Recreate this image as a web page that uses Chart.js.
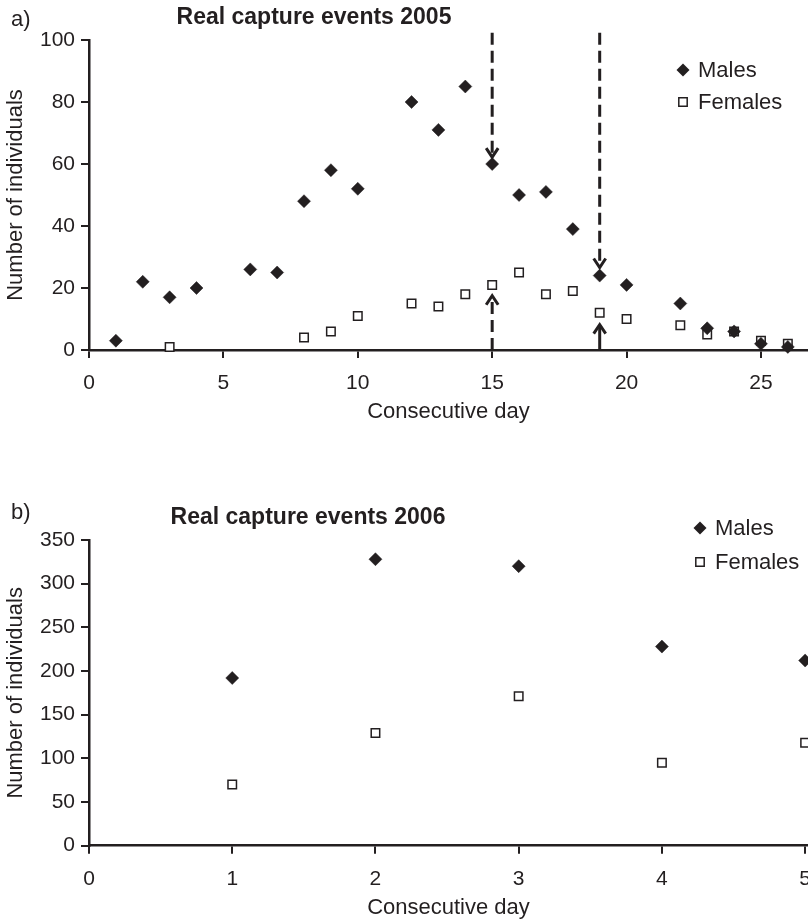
<!DOCTYPE html>
<html>
<head>
<meta charset="utf-8">
<script src="https://cdn.jsdelivr.net/npm/chart.js@4.4.0/dist/chart.umd.min.js"></script>
<style>
  html, body { margin: 0; padding: 0; background: #fff; overflow: hidden; }
  .panel { position: absolute; left: 0; width: 808px; }
  #panelA { top: 0; height: 455px; }
  #panelB { top: 455px; height: 468px; }
</style>
</head>
<body>
<div class="panel" id="panelA"><canvas id="chartA" width="808" height="455"></canvas></div>
<div class="panel" id="panelB"><canvas id="chartB" width="808" height="468"></canvas></div>
<script>
// 2005 capture events (panel a)
const maleDays2005 = [1, 2, 3, 4, 6, 7, 8, 9, 10, 12, 13, 14, 15, 16, 17, 18, 19, 20, 22, 23, 24, 25, 26];
const males2005 = [3, 22, 17, 20, 26, 25, 48, 58, 52, 80, 71, 85, 60, 50, 51, 39, 24, 21, 15, 7, 6, 2, 1];
const femaleDays2005 = [3, 8, 9, 10, 12, 13, 14, 15, 16, 17, 18, 19, 20, 22, 23, 24, 25, 26];
const females2005 = [1, 4, 6, 11, 15, 14, 18, 21, 25, 18, 19, 12, 10, 8, 5, 6, 3, 2];

// arrows on panel a: day, start value, tip value, dashed
const arrowDays = [15, 19, 15, 19];
const arrowFrom = [102.3, 102.3, 0, 0];
const arrowTo = [62.2, 26.6, 17.5, 8.2];
const arrowDashed = [true, true, true, false];

// 2006 capture events (panel b)
const days2006 = [1, 2, 3, 4, 5];
const males2006 = [192, 328, 320, 228, 212];
const females2006 = [70, 129, 171, 95, 118];

const ink = '#231f20';
const family = '"Liberation Sans", Arial, Helvetica, sans-serif';

function pts(xs, ys) {
  return xs.map((x, i) => ({ x: x, y: ys[i] }));
}

function marker(ctx, style, x, y) {
  ctx.save();
  ctx.strokeStyle = ink;
  ctx.beginPath();
  if (style === 'rectRot') {
    const r = 6.5;
    ctx.moveTo(x, y - r); ctx.lineTo(x + r, y); ctx.lineTo(x, y + r); ctx.lineTo(x - r, y);
    ctx.closePath();
    ctx.fillStyle = ink; ctx.fill();
  } else {
    const h = 4.2;
    ctx.rect(x - h, y - h, 2 * h, 2 * h);
    ctx.fillStyle = '#fff'; ctx.fill();
    ctx.lineWidth = 1.5; ctx.stroke();
  }
  ctx.restore();
}

// panel label, title and legend
const decorPlugin = {
  id: 'decor',
  afterDraw(chart, args, opts) {
    const ctx = chart.ctx;
    ctx.save();
    ctx.fillStyle = ink;
    ctx.textBaseline = 'middle';
    ctx.font = '22px ' + family;
    ctx.textAlign = 'left';
    ctx.fillText(opts.panel, 11, opts.panelY);
    ctx.font = 'bold 23px ' + family;
    ctx.textAlign = 'center';
    ctx.fillText(opts.title, opts.titleX, opts.titleY);
    ctx.font = '22px ' + family;
    ctx.textAlign = 'left';
    chart.data.datasets.forEach((ds, i) => {
      const y = opts.legendY + i * opts.legendGap;
      marker(ctx, ds.pointStyle, opts.legendX, y);
      ctx.fillStyle = ink;
      ctx.fillText(ds.label, opts.legendX + 15, y + 1);
    });
    ctx.restore();
  }
};

// dashed / solid arrows pointing at the captures
const arrowPlugin = {
  id: 'arrows',
  beforeDatasetsDraw(chart, args, opts) {
    if (!opts.show) return;
    const ctx = chart.ctx;
    const xs = chart.scales.x, ys = chart.scales.y;
    ctx.save();
    ctx.strokeStyle = ink;
    ctx.lineWidth = 3;
    arrowDays.forEach((d, i) => {
      const x = xs.getPixelForValue(d);
      const y0 = ys.getPixelForValue(arrowFrom[i]);
      const y1 = ys.getPixelForValue(arrowTo[i]);
      const dir = y1 > y0 ? 1 : -1;
      ctx.setLineDash(arrowDashed[i] ? [12, 6] : []);
      ctx.beginPath();
      ctx.moveTo(x, y0);
      ctx.lineTo(x, y1 - dir * 2);
      ctx.stroke();
      ctx.setLineDash([]);
      ctx.beginPath();
      ctx.moveTo(x - 6, y1 - dir * 9);
      ctx.lineTo(x, y1);
      ctx.lineTo(x + 6, y1 - dir * 9);
      ctx.stroke();
    });
    ctx.restore();
  }
};

function buildChart(id, cfg) {
  return new Chart(document.getElementById(id), {
    type: 'scatter',
    data: {
      datasets: [
        {
          label: 'Males',
          data: cfg.males,
          pointStyle: 'rectRot',
          pointRadius: 6.5,
          pointHoverRadius: 6.5,
          backgroundColor: ink,
          borderColor: ink,
          borderWidth: 0.5,
          clip: false
        },
        {
          label: 'Females',
          data: cfg.females,
          pointStyle: 'rect',
          pointRadius: 6,
          pointHoverRadius: 6,
          backgroundColor: '#fff',
          borderColor: ink,
          borderWidth: 1.5,
          clip: false
        }
      ]
    },
    options: {
      responsive: false,
      animation: false,
      devicePixelRatio: 1,
      layout: {
        autoPadding: false,
        padding: { top: cfg.padTop, bottom: cfg.padBottom, left: 0, right: 0 }
      },
      plugins: {
        legend: { display: false },
        tooltip: { enabled: false },
        decor: cfg.decor,
        arrows: { show: cfg.arrows }
      },
      scales: {
        x: {
          type: 'linear',
          min: 0,
          max: cfg.xMax,
          ticks: {
            stepSize: cfg.xStep,
            includeBounds: false,
            autoSkip: false,
            maxRotation: 0,
            color: ink,
            padding: 13,
            font: { family: family, size: 21 }
          },
          grid: { drawOnChartArea: false, drawTicks: true, tickLength: 8, color: ink, lineWidth: 2 },
          border: { display: true, color: ink, width: 2.5 },
          title: {
            display: true,
            text: 'Consecutive day',
            color: ink,
            font: { family: family, size: 22 },
            padding: { top: 0, bottom: 1 }
          },
          afterFit(s) { s.height = 76; s.paddingLeft = 0; s.paddingRight = 0; }
        },
        y: {
          min: 0,
          max: cfg.yMax,
          ticks: {
            stepSize: cfg.yStep,
            color: ink,
            padding: 6,
            font: { family: family, size: 21 }
          },
          grid: { drawOnChartArea: false, drawTicks: true, tickLength: 8, color: ink, lineWidth: 2 },
          border: { display: true, color: ink, width: 2.5 },
          title: {
            display: true,
            text: 'Number of individuals',
            color: ink,
            font: { family: family, size: 22 },
            padding: { top: 3, bottom: 0 }
          },
          afterFit(s) { s.width = 89; s.paddingTop = 0; s.paddingBottom = 0; }
        }
      }
    },
    plugins: [decorPlugin, arrowPlugin]
  });
}

buildChart('chartA', {
  males: pts(maleDays2005, males2005),
  females: pts(femaleDays2005, females2005),
  xMax: 26.75, xStep: 5,
  yMax: 100, yStep: 20,
  padTop: 40, padBottom: 29,
  arrows: true,
  decor: {
    panel: 'a)', panelY: 20,
    title: 'Real capture events 2005', titleX: 314, titleY: 18,
    legendX: 683, legendY: 70, legendGap: 32
  }
});

buildChart('chartB', {
  males: pts(days2006, males2006),
  females: pts(days2006, females2006),
  xMax: 5.02, xStep: 1,
  yMax: 350, yStep: 50,
  padTop: 85, padBottom: 1.3,
  arrows: false,
  decor: {
    panel: 'b)', panelY: 58,
    title: 'Real capture events 2006', titleX: 308, titleY: 63,
    legendX: 700, legendY: 73, legendGap: 34
  }
});
</script>
</body>
</html>
